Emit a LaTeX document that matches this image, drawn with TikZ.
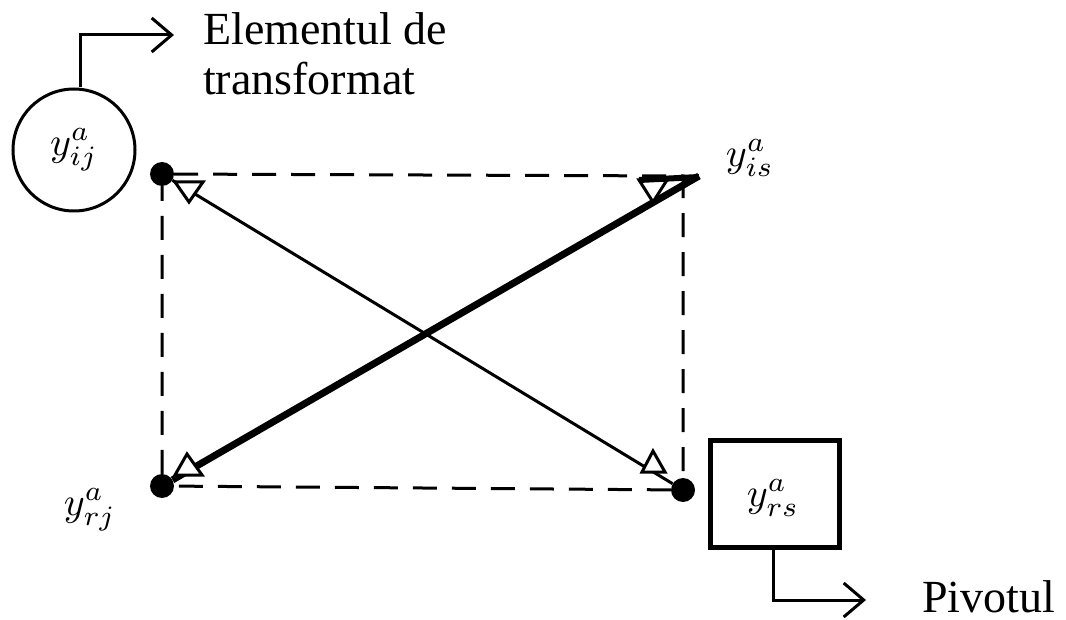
\documentclass[tikz,border=0pt]{standalone}
\usepackage{graphicx}
\usepackage{fontspec}
\setmainfont{Liberation Serif}
\usetikzlibrary{arrows.meta,calc}
\newcommand{\biglbl}[1]{\scalebox{4}{$#1$}}
\begin{document}
\begin{tikzpicture}[x=1pt,y=-1pt,
  dotnode/.style={circle,fill=black,inner sep=0pt,minimum size=24pt},
  dashline/.style={line width=3pt,dash pattern=on 24pt off 15pt},
  lbl/.style={inner sep=0pt},
  txt/.style={font=\fontsize{46}{50}\selectfont,inner sep=0pt},
  headtri/.style={draw=black,fill=white,line width=3pt,line join=miter},
  callout/.style={line width=3pt,-{Straight Barb[length=20pt,width=34pt,line width=3pt]}}]
\useasboundingbox (0,0) rectangle (1066,620);
% corners
\node[dotnode] (tl) at (162,174) {};
\node[dotnode] (bl) at (162,486) {};
\node[dotnode] (br) at (683,490) {};
\coordinate (tr) at (683,176);
% dashed rectangle
\draw[dashline] (tl) -- (tr) -- (br) -- (bl) -- (tl);
% diagonals
\draw[line width=3pt] (br) -- (tl);
\draw[line width=7pt] (bl) -- ($(tr)+(16,0)$);
% open arrowheads
\draw[headtri] ($(tl)+(13,8)$) -- ($(tl)+(41,8)$) -- ($(tl)+(27,28)$) -- cycle;
\draw[headtri] ($(br)+(-30,-39)$) -- ($(br)+(-18,-18)$) -- ($(br)+(-41,-18)$) -- cycle;
\draw[headtri] ($(bl)+(25,-32)$) -- ($(bl)+(40,-11)$) -- ($(bl)+(13,-11)$) -- cycle;
\draw[headtri] ($(tr)+(-44,4)$) -- ($(tr)+(-16,4)$) -- ($(tr)+(-30,26)$) -- cycle;
\draw[line width=6pt] ($(tr)+(-44,4)$) -- ($(tr)+(16,1)$);
% labels
\node[lbl] (lis) at (750,158) {\biglbl{y_{is}^{a}}};
\node[lbl] (lrj) at (90,510) {\biglbl{y_{rj}^{a}}};
% circled element
\node[circle,draw,line width=3pt,minimum size=122pt,inner sep=0pt] (c) at (74,150) {};
\node[lbl] (lij) at (c) {\biglbl{y_{ij}^{a}}};
\coordinate (e1) at (174,35);
\draw[callout] ($(c.north)+(6,0)$) |- (e1);
\node[txt,anchor=north west,align=left] (t1) at (203,12) {Elementul de\\transformat};
% pivot box
\node[draw,line width=5pt,minimum width=129pt,minimum height=107pt,inner sep=0pt] (p) at (775,494) {};
\node[lbl] (lrs) at (773,498) {\biglbl{y_{rs}^{a}}};
\coordinate (e2) at (866,600);
\draw[callout] ($(p.south)+(-2,0)$) |- (e2);
\node[txt,anchor=base west] (t2) at (922,612) {Pivotul};
\end{tikzpicture}
\end{document}
